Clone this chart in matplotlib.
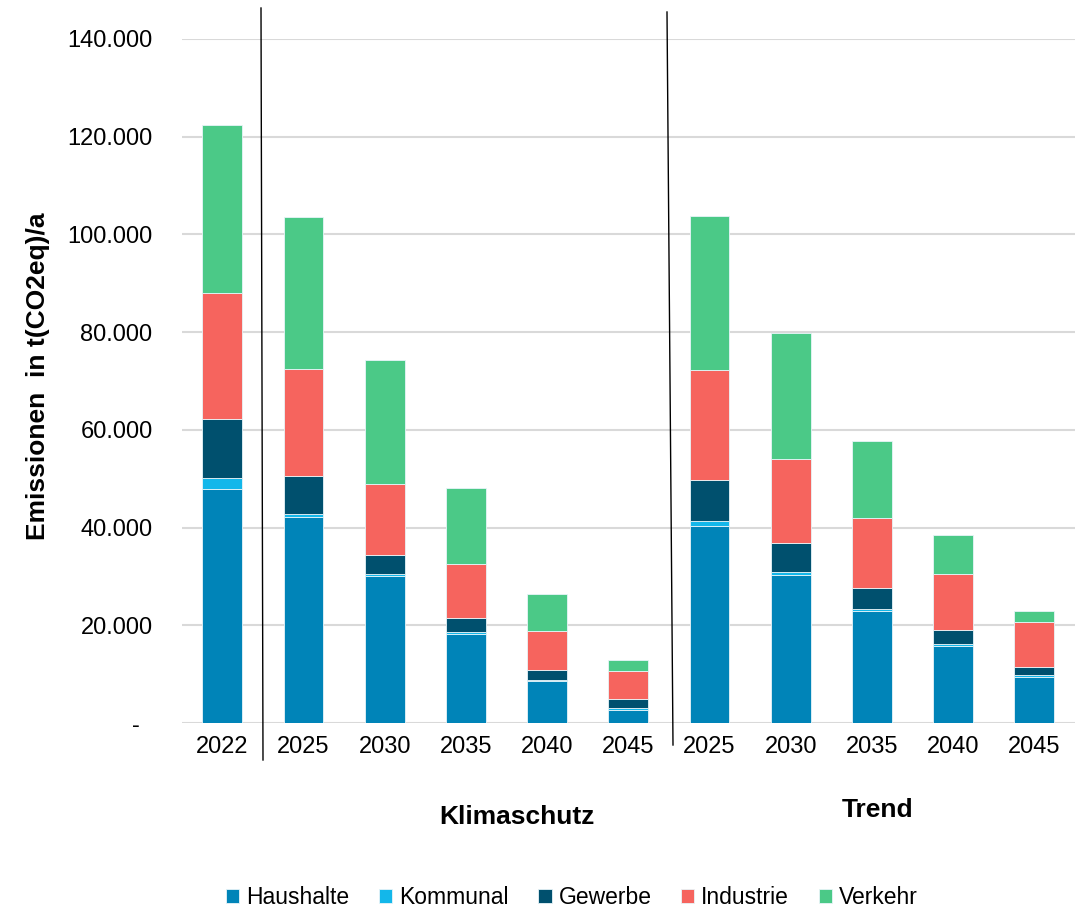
import matplotlib.pyplot as plt
import numpy as np

plt.rcParams['font.family'] = ['Liberation Sans', 'DejaVu Sans']

# categories (2022 baseline, Klimaschutz 2025-2045, Trend 2025-2045)
years = ["2022", "2025", "2030", "2035", "2040", "2045", "2025", "2030", "2035", "2040", "2045"]

# values in t(CO2eq)/a
haushalte = [47800, 42100, 30000, 18200, 8500, 2600, 40300, 30300, 22900, 15700, 9500]
kommunal = [2400, 600, 500, 400, 400, 400, 1100, 700, 500, 500, 400]
gewerbe = [12000, 7800, 3800, 2800, 1900, 2000, 8400, 5900, 4300, 2800, 1500]
industrie = [25800, 21900, 14700, 11200, 8000, 5700, 22500, 17100, 14200, 11400, 9300]
verkehr = [34300, 31200, 25400, 15400, 7700, 2100, 31500, 25900, 15800, 8100, 2200]

series = [("Haushalte", haushalte, "#0084B8"),
          ("Kommunal", kommunal, "#13B7EA"),
          ("Gewerbe", gewerbe, "#00506E"),
          ("Industrie", industrie, "#F6645E"),
          ("Verkehr", verkehr, "#4BC987")]

fig = plt.figure(figsize=(10.82, 9.09), dpi=100)
ax = fig.add_axes([0.168, 0.2046, 0.8255, 0.7525])

x = np.arange(len(years))
bottom = np.zeros(len(years))
for name, vals, col in series:
    ax.bar(x, vals, 0.49, bottom=bottom, color=col, label=name,
           edgecolor="#e8f4f8", linewidth=0.6, zorder=3)
    bottom += np.array(vals)

ax.set_xlim(-0.5, len(years) - 0.5)
ax.set_ylim(0, 140000)
yt = np.arange(0, 140001, 20000)
ax.set_yticks(yt)
ax.set_yticklabels(["-  "] + [f"{v:,}".replace(",", ".") for v in yt[1:]])
ax.set_xticks(x)
ax.set_xticklabels(years)
ax.tick_params(axis="both", length=0, labelsize=17, colors="#000000")
ax.tick_params(axis="x", pad=9)
ax.tick_params(axis="y", pad=21)
ax.grid(axis="y", color="#d9d9d9", linewidth=1.5, zorder=0)
for s in ax.spines.values():
    s.set_visible(False)

fig.text(38 / 1082, 1 - 376 / 909, "Emissionen  in t(CO2eq)/a", fontsize=19,
         fontweight="bold", rotation=90, ha="center", va="center")

# separator lines between groups
fig.add_artist(plt.Line2D([261 / 1082, 263 / 1082], [1 - 8 / 909, 1 - 760 / 909],
                          color="black", linewidth=1))
fig.add_artist(plt.Line2D([667 / 1082, 673 / 1082], [1 - 12 / 909, 1 - 745 / 909],
                          color="black", linewidth=1))

fig.text(517 / 1082, 1 - 817 / 909, "Klimaschutz", fontsize=19, fontweight="bold",
         ha="center", va="center")
fig.text(878 / 1082, 1 - 810 / 909, "Trend", fontsize=19, fontweight="bold",
         ha="center", va="center")

fig.legend(loc="center", bbox_to_anchor=(572 / 1082, 1 - 898 / 909), ncol=5, frameon=False,
           fontsize=16.5, handlelength=0.57, handleheight=0.57, handletextpad=0.3,
           columnspacing=1.3, borderpad=0)

fig.savefig("out.png", dpi=100)
